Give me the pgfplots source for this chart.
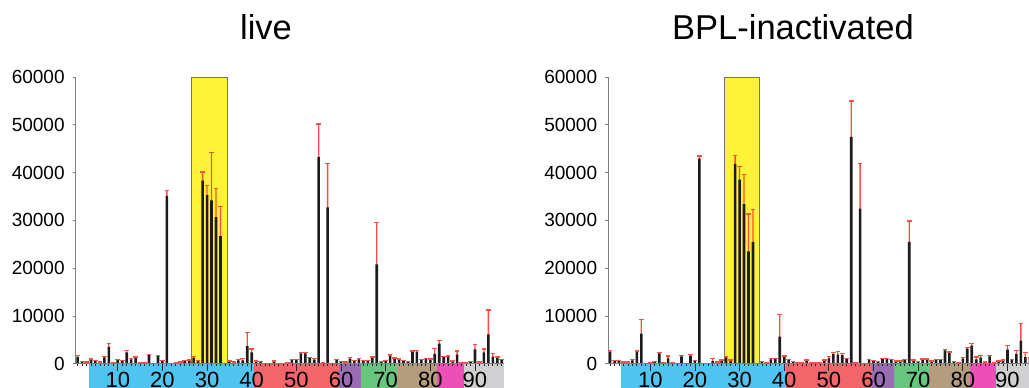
\documentclass[border=0pt]{standalone}
\usepackage{pgfplots}
\pgfplotsset{compat=1.18}
\usepackage{pgfplotstable}
\usepackage{fontspec}
\setmainfont{Liberation Sans}
\definecolor{bblue}{RGB}{79,196,240}
\definecolor{bred}{RGB}{240,102,106}
\definecolor{bpurple}{RGB}{154,108,180}
\definecolor{bgreen}{RGB}{102,198,128}
\definecolor{btan}{RGB}{180,156,126}
\definecolor{bpink}{RGB}{236,80,182}
\definecolor{bgrey}{RGB}{208,208,210}
\definecolor{hly}{RGB}{255,242,56}
\definecolor{errred}{RGB}{245,80,70}
\definecolor{barblk}{RGB}{28,28,28}

\pgfdeclareplotmark{capbar}{%
  \pgfpathrectangle{\pgfpoint{-2.3pt}{-0.7pt}}{\pgfpoint{4.6pt}{1.4pt}}%
  \pgfusepathqfill}

\pgfplotstableread{
x y e
1 1450 250
2 350 70
3 300 70
4 800 200
5 550 130
6 200 130
7 1330 220
8 3500 750
9 80 40
10 750 150
11 600 80
12 2350 350
13 900 150
14 1200 200
15 200 80
16 200 50
17 1800 100
18 50 30
19 1650 100
20 550 150
21 35100 1200
22 50 30
23 100 50
24 250 80
25 550 80
26 700 70
27 1250 200
28 550 80
29 38300 1800
30 35300 2000
31 34200 10000
32 30700 6000
33 26700 6200
34 50 30
35 420 140
36 280 70
37 700 140
38 700 350
39 3700 2870
40 2380 700
41 490 70
42 420 70
43 70 30
44 70 30
45 490 70
46 70 30
47 70 30
48 200 80
49 770 130
50 770 130
51 2170 210
52 2170 210
53 1260 70
54 840 210
55 43300 6900
56 100 40
57 32700 9200
58 30 20
59 770 70
60 420 70
61 280 70
62 1050 210
63 560 70
64 910 210
65 630 70
66 630 70
67 1260 140
68 20800 8700
69 350 70
70 630 70
71 1610 210
72 1120 70
73 910 70
74 630 70
75 420 70
76 2450 200
77 2520 280
78 770 130
79 980 140
80 910 70
81 2030 1120
82 4200 630
83 1470 70
84 1470 140
85 490 70
86 1890 760
87 200 80
88 200 80
89 350 70
90 3000 1060
91 280 70
92 2380 700
93 6150 5110
94 1470 700
95 1330 70
96 770 70
}\live

\pgfplotstableread{
x y e
1 2520 210
2 560 90
3 560 90
4 280 70
5 280 70
6 700 140
7 2520 140
8 6290 2940
9 70 30
10 200 80
11 350 70
12 2170 210
13 140 40
14 1120 490
15 140 40
16 30 20
17 1540 140
18 30 20
19 1680 210
20 560 140
21 42900 600
22 30 20
23 70 30
24 560 560
25 280 70
26 630 140
27 1330 140
28 630 140
29 41800 1800
30 38500 2800
31 33400 6200
32 23500 7800
33 25500 6800
34 50 30
35 420 70
36 140 40
37 910 140
38 980 140
39 5650 4650
40 1470 140
41 770 70
42 350 70
43 140 40
44 140 40
45 630 140
46 140 40
47 140 40
48 140 60
49 630 140
50 1120 350
51 2030 270
52 1890 630
53 1820 350
54 980 140
55 47450 7550
56 140 60
57 32450 9450
58 30 20
59 770 140
60 630 70
61 420 70
62 980 140
63 980 70
64 840 70
65 490 70
66 490 70
67 770 140
68 25500 4400
69 630 140
70 420 70
71 840 140
72 840 140
73 490 70
74 770 70
75 770 70
76 2800 200
77 2300 150
78 350 70
79 140 60
80 1050 210
81 3150 210
82 3780 490
83 910 490
84 1260 420
85 280 70
86 1540 210
87 210 70
88 490 70
89 700 70
90 2940 910
91 770 70
92 2030 770
93 4830 3560
94 1400 910
95 1000 200
96 600 100
}\bpl

\pgfplotsset{
  panel/.style={
    axis on top, clip=false,
    scale only axis, width=428.2pt, height=286.7pt,
    anchor=south west,
    xmin=0.6, xmax=96.5, ymin=0, ymax=60000,
    axis x line*=bottom, axis y line*=left,
    axis line style={draw=black!50, line width=0.8pt, -},
    tick align=outside,
    major tick length=7pt, minor tick length=2.5pt,
    xtick={10,20,...,90},
    xticklabels={10,20,30,40,50,60,70,80,90},
    minor xtick={1,2,...,96},
    ytick=\empty,
    extra y ticks={0,10000,20000,30000,40000,50000,60000},
    extra y tick labels={0,10000,20000,30000,40000,50000,60000},
    extra y tick style={major tick length=3pt, ytick style={black!50, line width=0.8pt}},
    xtick style={black!85, line width=0.8pt},
    minor tick style={black!70, line width=0.6pt},
    /pgf/number format/assume math mode=true,
    xticklabel style={font=\fontsize{22}{26}\selectfont, inner sep=0pt, anchor=north, yshift=-1.5pt},
    yticklabel style={font=\fontsize{19}{22}\selectfont, inner sep=0pt, anchor=east, xshift=-8pt},
  },
  errline/.style={ybar, bar shift=0pt, bar width=1.3pt, fill=errred, draw=none, forget plot},
  bars/.style={ybar, bar shift=0pt, bar width=2.6pt, fill=barblk, draw=none, forget plot},
  caps/.style={only marks, mark=capbar, color=errred,
    mark options={fill=errred, draw=none}, forget plot},
}

\newcommand\bands{%
  \fill[bblue]   (axis cs:3.5,0)  rectangle (axis cs:40.5,-6000);
  \fill[bred]    (axis cs:40.5,0) rectangle (axis cs:59.6,-6000);
  \fill[bpurple] (axis cs:59.6,0) rectangle (axis cs:64.5,-6000);
  \fill[bgreen]  (axis cs:64.5,0) rectangle (axis cs:72.5,-6000);
  \fill[btan]    (axis cs:72.5,0) rectangle (axis cs:81.5,-6000);
  \fill[bpink]   (axis cs:81.5,0) rectangle (axis cs:87.5,-6000);
  \fill[bgrey]   (axis cs:87.5,0) rectangle (axis cs:96.5,-6000);
  \draw[fill=hly, draw=black!55, line width=0.8pt] (axis cs:26.5,0) rectangle (axis cs:34.55,60000);}

\begin{document}
\begin{tikzpicture}
\begin{axis}[panel, at={(75.8pt,24.3pt)}]
\bands
\addplot[errline] table[x=x, y expr=\thisrow{y}+\thisrow{e}] {\live};
\addplot[bars] table[x=x, y=y] {\live};
\addplot[caps] table[x=x, y expr=\thisrow{y}+\thisrow{e}] {\live};
\end{axis}
\begin{axis}[panel, at={(608.3pt,24.3pt)}]
\bands
\addplot[errline] table[x=x, y expr=\thisrow{y}+\thisrow{e}] {\bpl};
\addplot[bars] table[x=x, y=y] {\bpl};
\addplot[caps] table[x=x, y expr=\thisrow{y}+\thisrow{e}] {\bpl};
\end{axis}
\node[font=\fontsize{34.5}{40}\selectfont, anchor=base] at (266pt,348pt) {live};
\node[font=\fontsize{34.5}{40}\selectfont, anchor=base] at (793pt,348pt) {BPL-inactivated};
\pgfresetboundingbox
\path (0,0) rectangle (1029pt,388pt);
\end{tikzpicture}
\end{document}
